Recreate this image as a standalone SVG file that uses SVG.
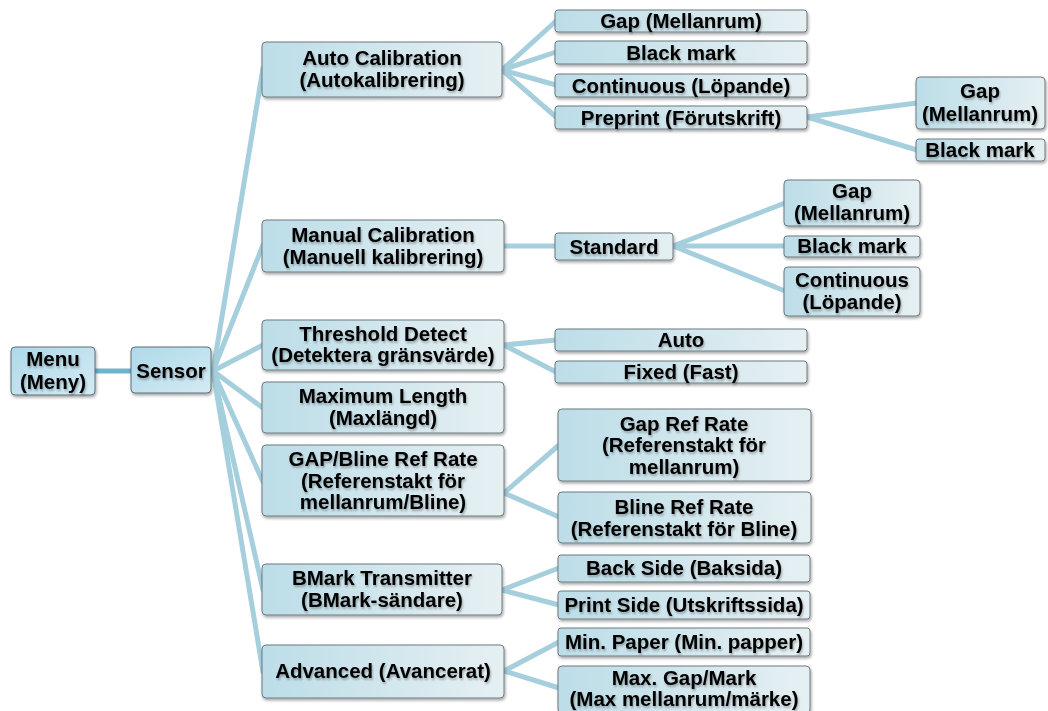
<svg xmlns="http://www.w3.org/2000/svg" width="1048" height="711" viewBox="0 0 1048 711">
<defs>
<linearGradient id="g1" x1="0" y1="0" x2="1" y2="1">
<stop offset="0" stop-color="#aed9ea"/><stop offset="1" stop-color="#d3ebf3"/>
</linearGradient>
<linearGradient id="g2" x1="0" y1="0" x2="1" y2="0">
<stop offset="0" stop-color="#bcdde8"/><stop offset="1" stop-color="#e6f0f3"/>
</linearGradient>
<filter id="sh" x="-10%" y="-20%" width="125%" height="150%">
<feGaussianBlur in="SourceAlpha" stdDeviation="1.5"/>
<feOffset dx="1" dy="2" result="b"/>
<feComponentTransfer><feFuncA type="linear" slope="0.35"/></feComponentTransfer>
<feMerge><feMergeNode/><feMergeNode in="SourceGraphic"/></feMerge>
</filter>
<filter id="ts" x="-5%" y="-20%" width="110%" height="150%">
<feGaussianBlur in="SourceAlpha" stdDeviation="0.8"/>
<feOffset dx="0.5" dy="1.5"/>
<feComponentTransfer><feFuncA type="linear" slope="0.3"/></feComponentTransfer>
<feMerge><feMergeNode/><feMergeNode in="SourceGraphic"/></feMerge>
</filter>
</defs>
<style>
.b1{fill:url(#g1);stroke:#5f6f75;stroke-width:1;filter:url(#sh)}
.b2{fill:url(#g2);stroke:#6c7b80;stroke-width:1;filter:url(#sh)}
text{font-family:"Liberation Sans",Arial,sans-serif;font-weight:bold;font-size:20.5px;fill:#000;text-anchor:middle;filter:url(#ts)}
.c{stroke:#a6cfde;stroke-width:5;fill:none;stroke-linecap:round}
.c0{stroke:#6db4cc;stroke-width:5;fill:none}
</style>
<rect width="1048" height="711" fill="#fff"/>
<g id="connectors">
<line class="c0" x1="95" y1="371" x2="131" y2="371"/>
<line class="c" x1="213" y1="371" x2="263" y2="68"/>
<line class="c" x1="213" y1="371" x2="263" y2="245"/>
<line class="c" x1="213" y1="371" x2="263" y2="345"/>
<line class="c" x1="213" y1="371" x2="263" y2="408"/>
<line class="c" x1="213" y1="371" x2="263" y2="482"/>
<line class="c" x1="213" y1="371" x2="263" y2="590"/>
<line class="c" x1="213" y1="371" x2="263" y2="672"/>
<line class="c" x1="502" y1="70" x2="556" y2="21"/>
<line class="c" x1="502" y1="70" x2="556" y2="52"/>
<line class="c" x1="502" y1="70" x2="556" y2="85"/>
<line class="c" x1="502" y1="70" x2="556" y2="117"/>
<line class="c" x1="807" y1="117" x2="917" y2="103"/>
<line class="c" x1="807" y1="117" x2="917" y2="150"/>
<line class="c" x1="504" y1="246" x2="556" y2="246"/>
<line class="c" x1="673" y1="246" x2="785" y2="203"/>
<line class="c" x1="673" y1="246" x2="785" y2="246"/>
<line class="c" x1="673" y1="246" x2="785" y2="291"/>
<line class="c" x1="504" y1="345" x2="556" y2="340"/>
<line class="c" x1="504" y1="345" x2="556" y2="372"/>
<line class="c" x1="504" y1="493" x2="559" y2="445"/>
<line class="c" x1="504" y1="493" x2="559" y2="517"/>
<line class="c" x1="502" y1="590" x2="559" y2="568"/>
<line class="c" x1="502" y1="590" x2="559" y2="605"/>
<line class="c" x1="504" y1="671" x2="559" y2="642"/>
<line class="c" x1="504" y1="671" x2="559" y2="688"/>
</g>
<g id="menu"><rect class="b1" x="11" y="347" width="84" height="48" rx="4"/><text x="53" y="366">Menu</text><text x="53" y="389">(Meny)</text></g>
<g id="sensor"><rect class="b1" x="131" y="347" width="80" height="46" rx="4"/><text x="171" y="378">Sensor</text></g>

<g id="autocal"><rect class="b2" x="262" y="42" width="240" height="55" rx="4"/><text x="382" y="65">Auto Calibration</text><text x="382" y="87">(Autokalibrering)</text></g>
<g id="manualcal"><rect class="b2" x="262" y="220" width="242" height="52" rx="4"/><text x="383" y="242">Manual Calibration</text><text x="383" y="264">(Manuell kalibrering)</text></g>
<g id="threshold"><rect class="b2" x="262" y="320" width="242" height="50" rx="4"/><text x="383" y="341">Threshold Detect</text><text x="383" y="362">(Detektera gränsvärde)</text></g>
<g id="maxlen"><rect class="b2" x="262" y="382" width="242" height="51" rx="4"/><text x="383" y="403">Maximum Length</text><text x="383" y="425">(Maxlängd)</text></g>
<g id="gapbline"><rect class="b2" x="262" y="445" width="242" height="71" rx="4"/><text x="383" y="466">GAP/Bline Ref Rate</text><text x="383" y="488">(Referenstakt för</text><text x="383" y="509">mellanrum/Bline)</text></g>
<g id="bmark"><rect class="b2" x="262" y="564" width="240" height="51" rx="4"/><text x="382" y="585">BMark Transmitter</text><text x="382" y="607">(BMark-sändare)</text></g>
<g id="advanced"><rect class="b2" x="262" y="645" width="242" height="53" rx="4"/><text x="383" y="678">Advanced (Avancerat)</text></g>

<g id="ac-gap"><rect class="b2" x="555" y="10" width="252" height="22" rx="3"/><text x="681" y="28">Gap (Mellanrum)</text></g>
<g id="ac-black"><rect class="b2" x="555" y="41" width="252" height="23" rx="3"/><text x="681" y="60">Black mark</text></g>
<g id="ac-cont"><rect class="b2" x="555" y="74" width="252" height="23" rx="3"/><text x="681" y="93">Continuous (Löpande)</text></g>
<g id="ac-pre"><rect class="b2" x="555" y="106" width="252" height="23" rx="3"/><text x="681" y="125">Preprint (Förutskrift)</text></g>
<g id="pre-gap"><rect class="b2" x="916" y="77" width="129" height="52" rx="4"/><text x="980" y="98">Gap</text><text x="980" y="121">(Mellanrum)</text></g>
<g id="pre-black"><rect class="b2" x="916" y="139" width="129" height="22" rx="3"/><text x="980" y="157">Black mark</text></g>

<g id="standard"><rect class="b2" x="555" y="233" width="118" height="27" rx="3"/><text x="614" y="254">Standard</text></g>
<g id="st-gap"><rect class="b2" x="784" y="180" width="136" height="46" rx="4"/><text x="852" y="198">Gap</text><text x="852" y="220">(Mellanrum)</text></g>
<g id="st-black"><rect class="b2" x="784" y="236" width="136" height="21" rx="3"/><text x="852" y="253">Black mark</text></g>
<g id="st-cont"><rect class="b2" x="784" y="267" width="136" height="49" rx="4"/><text x="852" y="287">Continuous</text><text x="852" y="309">(Löpande)</text></g>

<g id="th-auto"><rect class="b2" x="555" y="329" width="252" height="22" rx="3"/><text x="681" y="347">Auto</text></g>
<g id="th-fixed"><rect class="b2" x="555" y="361" width="252" height="22" rx="3"/><text x="681" y="379">Fixed (Fast)</text></g>

<g id="gapref"><rect class="b2" x="558" y="409" width="253" height="72" rx="4"/><text x="684" y="431">Gap Ref Rate</text><text x="684" y="452">(Referenstakt för</text><text x="684" y="474">mellanrum)</text></g>
<g id="blineref"><rect class="b2" x="558" y="492" width="253" height="51" rx="4"/><text x="684" y="514">Bline Ref Rate</text><text x="684" y="536">(Referenstakt för Bline)</text></g>

<g id="backside"><rect class="b2" x="558" y="555" width="252" height="27" rx="3"/><text x="684" y="575">Back Side (Baksida)</text></g>
<g id="printside"><rect class="b2" x="558" y="591" width="252" height="28" rx="3"/><text x="684" y="612">Print Side (Utskriftssida)</text></g>
<g id="minpaper"><rect class="b2" x="558" y="628" width="252" height="28" rx="3"/><text x="684" y="649">Min. Paper (Min. papper)</text></g>
<g id="maxgap"><rect class="b2" x="558" y="666" width="252" height="47" rx="4"/><text x="684" y="685">Max. Gap/Mark</text><text x="684" y="706">(Max mellanrum/märke)</text></g>
</svg>
